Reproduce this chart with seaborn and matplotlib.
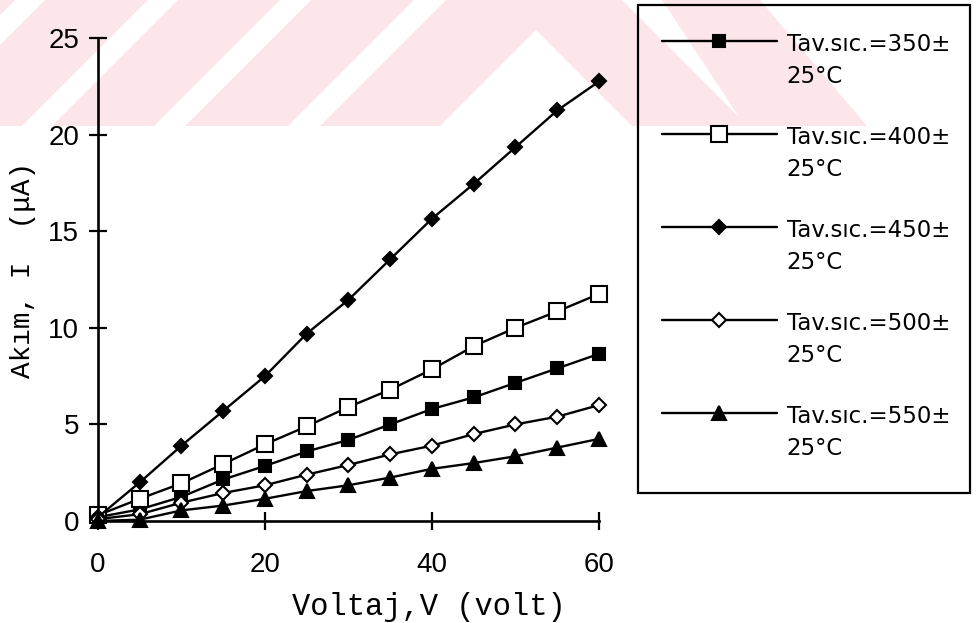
import numpy as np
import pandas as pd
import matplotlib
matplotlib.use("Agg")
import matplotlib.pyplot as plt
import seaborn as sns
from matplotlib.patches import Polygon, Rectangle
from matplotlib.lines import Line2D
from matplotlib.legend_handler import HandlerLine2D

# ---------------- data ----------------
voltage = [0, 5, 10, 15, 20, 25, 30, 35, 40, 45, 50, 55, 60]
akim_350 = [0.2, 0.6, 1.25, 2.15, 2.85, 3.6, 4.2, 5.0, 5.8, 6.4, 7.15, 7.9, 8.65]
akim_400 = [0.3, 1.15, 1.95, 2.95, 3.97, 4.9, 5.9, 6.8, 7.85, 9.05, 10.0, 10.85, 11.75]
akim_450 = [0.2, 2.0, 3.9, 5.7, 7.5, 9.7, 11.45, 13.55, 15.65, 17.45, 19.35, 21.25, 22.75]
akim_500 = [0.1, 0.35, 0.95, 1.45, 1.85, 2.4, 2.9, 3.45, 3.9, 4.5, 5.0, 5.4, 6.0]
akim_550 = [0.0, 0.07, 0.55, 0.8, 1.15, 1.55, 1.85, 2.25, 2.7, 3.0, 3.35, 3.8, 4.25]
series_labels = ["Tav.sıc.=350±\n25°C", "Tav.sıc.=400±\n25°C", "Tav.sıc.=450±\n25°C",
                 "Tav.sıc.=500±\n25°C", "Tav.sıc.=550±\n25°C"]
x_ticks = [0, 20, 40, 60]
y_ticks = [0, 5, 10, 15, 20, 25]
x_label = "Voltaj,V (volt)"
y_label = "Akım, I  (μA)"

series_values = [akim_350, akim_400, akim_450, akim_500, akim_550]
marker_styles = [
    dict(marker="s", markersize=8.5, markerfacecolor="black"),
    dict(marker="s", markersize=11.5, markerfacecolor="white"),
    dict(marker="D", markersize=7.5, markerfacecolor="black"),
    dict(marker="D", markersize=7.5, markerfacecolor="white"),
    dict(marker="^", markersize=9.5, markerfacecolor="black"),
]

sns.set_theme(style="white")
plt.rcParams["font.family"] = ["DejaVu Sans"]

W, H = 978, 623
fig = plt.figure(figsize=(W / 100, H / 100), dpi=100, facecolor="white")


def fx(x):
    return x / W


def fy(y):
    return 1 - y / H


# faint background watermark (decorative)
pink = "#fce6ea"
wm_shapes = [
    [(-300, 0), (15, 0), (-111, 126), (-426, 126)],
    [(45, 0), (148, 0), (22, 126), (-81, 126)],
    [(178, 0), (280, 0), (154, 126), (52, 126)],
    [(311, 0), (414, 0), (288, 126), (185, 126)],
    [(446, 0), (622, 0), (748, 126), (632, 126), (536, 30), (440, 126), (320, 126)],
    [(662, 0), (760, 0), (867, 126), (745, 126)],
]
for shp in wm_shapes:
    fig.add_artist(Polygon([(fx(a), fy(b)) for a, b in shp], closed=True,
                           transform=fig.transFigure, facecolor=pink,
                           edgecolor="none", zorder=-5))

ax_l, ax_r, ax_t, ax_b = 98, 599, 38, 521
ax = fig.add_axes([fx(ax_l), fy(ax_b), fx(ax_r) - fx(ax_l), fy(ax_t) - fy(ax_b)])
ax.set_facecolor("none")

for vals, lab, st in zip(series_values, series_labels, marker_styles):
    sns.lineplot(x=voltage, y=vals, ax=ax, color="black", linewidth=1.7,
                 markeredgecolor="black", markeredgewidth=1.5, label=lab,
                 clip_on=False, legend=False, **st)

ax.set_xlim(0, 60)
ax.set_ylim(0, 25)
ax.set_xticks(x_ticks)
ax.set_yticks(y_ticks)
for s in ["top", "right"]:
    ax.spines[s].set_visible(False)
for s in ["left", "bottom"]:
    ax.spines[s].set_linewidth(1.9)
    ax.spines[s].set_color("black")
ax.tick_params(bottom=True, left=True, top=False, right=False,
               direction="inout", length=13, width=1.6, color="black",
               labelsize=20, labelcolor="black")
ax.tick_params(axis="y", pad=7)
ax.tick_params(axis="x", pad=16)
for t in ax.get_xticklabels() + ax.get_yticklabels():
    t.set_fontfamily(["Liberation Sans", "DejaVu Sans"])

ax.set_xlabel(x_label, fontfamily=["Liberation Mono", "DejaVu Sans Mono"],
              fontsize=22, color="black")
ax.xaxis.set_label_coords(0.66, -0.147)
ax.set_ylabel(y_label, fontfamily=["Liberation Mono", "DejaVu Sans Mono"],
              fontsize=20, color="black", va="center")
ax.yaxis.set_label_coords(-0.149, 0.52)


class RaisedLine(HandlerLine2D):
    def __init__(self, dy, **kw):
        super().__init__(**kw)
        self.dy = dy

    def create_artists(self, legend, orig_handle, xdescent, ydescent, width,
                       height, fontsize, trans):
        arts = super().create_artists(legend, orig_handle, xdescent, ydescent,
                                      width, height, fontsize, trans)
        for a in arts:
            a.set_ydata(np.asarray(a.get_ydata(), float) + self.dy)
        return arts


handles, labels = ax.get_legend_handles_labels()
leg = ax.legend(handles, labels, loc="upper left",
                bbox_to_anchor=(fx(638), fy(9)), bbox_transform=fig.transFigure,
                frameon=False, handlelength=5.0, handletextpad=0.44,
                borderpad=1.05, labelspacing=1.66, borderaxespad=0,
                prop={"family": "DejaVu Sans", "size": 16.5},
                handler_map={Line2D: RaisedLine(dy=15.1)})
for t in leg.get_texts():
    t.set_color("black")
    t.set_linespacing(1.5)

fig.add_artist(Rectangle((fx(638), fy(493)), fx(970) - fx(638), fy(5) - fy(493),
                         transform=fig.transFigure, fill=False, lw=1.6,
                         edgecolor="black", zorder=5))

fig.savefig("out.png", dpi=100)
